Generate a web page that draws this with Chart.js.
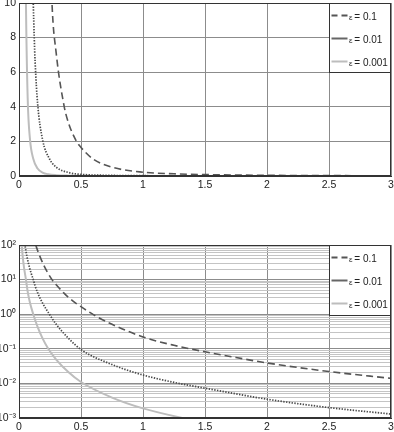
<!DOCTYPE html>
<html>
<head>
<meta charset="utf-8">
<script src="https://cdn.jsdelivr.net/npm/chart.js@4/dist/chart.umd.min.js"></script>
<style>
	html, body { margin: 0; padding: 0; background: #fff; }
	#wrap { position: relative; width: 394px; height: 432px; }
	.box { position: absolute; left: 0; width: 394px; }
</style>
</head>
<body>
<div id="wrap">
	<div class="box" style="top:0;height:196px"><canvas id="chart-linear"></canvas></div>
	<div class="box" style="top:230px;height:202px"><canvas id="chart-log"></canvas></div>
</div>
<script>
// Series labels
const LABELS = ["ε = 0.1", "ε = 0.01", "ε = 0.001"];

// Tick labels
const X_TICKS = [0, 0.5, 1, 1.5, 2, 2.5, 3];
const LIN_TICKS = [0, 2, 4, 6, 8, 10];
const LOG_EXP = [-3, -2, -1, 0, 1, 2];
const LOG_TICKS = ["10⁻³", "10⁻²", "10⁻¹", "10⁰", "10¹", "10²"];

// ε = 0.1 (dashed)
const E1_X = [0.11, 0.135, 0.16, 0.2, 0.266, 0.3, 0.365, 0.4, 0.46, 0.5, 0.6, 0.75, 1, 1.25, 1.5, 1.75, 2, 2.5, 3];
const E1_Y = [200, 100, 56, 26, 10, 7.1, 4.0, 3.05, 2.05, 1.65, 0.97, 0.51, 0.22, 0.126, 0.082, 0.056, 0.039, 0.022, 0.014];

// ε = 0.01 (dotted)
const E2_X = [0.04, 0.048, 0.065, 0.085, 0.1, 0.115, 0.123, 0.13, 0.15, 0.19, 0.245, 0.3, 0.4, 0.5, 0.75, 1, 1.25, 1.5, 2, 2.5, 3];
const E2_Y = [160, 100, 45, 22, 14.5, 10, 8, 6.6, 4.2, 2.1, 1.0, 0.51, 0.2, 0.095, 0.035, 0.0175, 0.0107, 0.0073, 0.0035, 0.002, 0.0013];

// ε = 0.001 (solid light)
const E3_X = [0.018, 0.022, 0.03, 0.04, 0.056, 0.07, 0.089, 0.115, 0.15, 0.19, 0.236, 0.3, 0.4, 0.5, 0.75, 1, 1.32, 1.5];
const E3_Y = [162, 100, 46, 23, 10, 4.5, 2.1, 1.0, 0.43, 0.2, 0.1, 0.049, 0.021, 0.011, 0.0039, 0.0019, 0.001, 0.00075];

const FONT = { family: "'Liberation Sans', Arial, sans-serif", size: 10.5 };
const TEXT = "#222";

const pts = (xs, ys) => xs.map((x, i) => ({ x, y: ys[i] }));

const makeDatasets = () => [
	{
		label: LABELS[0],
		data: pts(E1_X, E1_Y),
		borderColor: "#555",
		borderWidth: 1.6,
		borderDash: [7, 4],
		legendColor: "#555",
		legendDash: [6, 4],
	},
	{
		label: LABELS[1],
		data: pts(E2_X, E2_Y),
		borderColor: "#4a4a4a",
		borderWidth: 1.7,
		borderDash: [1.4, 1.4],
		legendColor: "#666",
		legendDash: [],
	},
	{
		label: LABELS[2],
		data: pts(E3_X, E3_Y),
		borderColor: "#bdbdbd",
		borderWidth: 2,
		borderDash: [],
		legendColor: "#bdbdbd",
		legendDash: [],
	},
].map((ds) => ({
	...ds,
	pointRadius: 0,
	fill: false,
	cubicInterpolationMode: "monotone",
	clip: 0,
}));

// Axis box + legend drawn inside chart area
const frameAndLegend = {
	id: "frameAndLegend",
	afterDraw(chart) {
		const { ctx, chartArea, scales } = chart;
		ctx.save();
		ctx.strokeStyle = "#333";
		ctx.lineWidth = 1;
		ctx.strokeRect(chartArea.left + 0.5, chartArea.top + 0.5, chartArea.right - chartArea.left - 1, chartArea.bottom - chartArea.top - 1);

		const left = Math.round(scales.x.getPixelForValue(2.5)) + 0.5;
		const top = chartArea.top + 0.5;
		const right = chartArea.right - 0.5;
		const h = chart.options.plugins.frameAndLegend.height;
		ctx.fillStyle = "#fff";
		ctx.fillRect(left, top, right - left, h);
		ctx.strokeRect(left, top, right - left, h);

		chart.data.datasets.forEach((ds, i) => {
			const y = top + 12 + i * 23;
			ctx.beginPath();
			ctx.setLineDash(ds.legendDash);
			ctx.strokeStyle = ds.legendColor;
			ctx.lineWidth = 2;
			ctx.moveTo(left + 2, y);
			ctx.lineTo(left + 18, y);
			ctx.stroke();
			ctx.setLineDash([]);

			ctx.fillStyle = TEXT;
			ctx.textBaseline = "alphabetic";
			ctx.font = `8px ${FONT.family}`;
			ctx.fillText(ds.label.charAt(0), left + 19.5, y + 4.5);
			ctx.font = `10px ${FONT.family}`;
			ctx.fillText(ds.label.slice(1), left + 22, y + 4);
		});
		ctx.restore();
	},
};

const zeroPad = (w, h) => (scale) => {
	if (w !== null) scale.width = w;
	if (h !== null) scale.height = h;
	scale.paddingTop = 0;
	scale.paddingBottom = 0;
	scale.paddingLeft = 0;
	scale.paddingRight = 0;
};

const xScale = (height) => ({
	type: "linear",
	min: X_TICKS[0],
	max: X_TICKS[X_TICKS.length - 1],
	afterBuildTicks: (scale) => {
		scale.ticks = X_TICKS.map((value) => ({ value }));
	},
	afterFit: zeroPad(null, height),
	border: { display: true, color: "#333" },
	grid: { color: "#8c8c8c", drawTicks: false },
	ticks: {
		color: TEXT,
		font: FONT,
		padding: 3,
		maxRotation: 0,
		autoSkip: false,
		callback: (v) => String(v),
	},
});

const baseOptions = {
	responsive: true,
	maintainAspectRatio: false,
	animation: false,
	events: [],
	parsing: false,
};

// Linear chart
new Chart(document.getElementById("chart-linear"), {
	type: "line",
	data: { datasets: makeDatasets() },
	options: {
		...baseOptions,
		layout: { padding: { top: 3, right: 3, left: 0, bottom: 0 } },
		plugins: {
			legend: { display: false },
			tooltip: { enabled: false },
			frameAndLegend: { height: 69 },
		},
		scales: {
			x: xScale(20),
			y: {
				type: "linear",
				min: LIN_TICKS[0],
				max: LIN_TICKS[LIN_TICKS.length - 1],
				afterBuildTicks: (scale) => {
					scale.ticks = LIN_TICKS.map((value) => ({ value }));
				},
				afterFit: zeroPad(19, null),
				border: { display: true, color: "#333" },
				grid: { color: "#8c8c8c", drawTicks: false },
				ticks: { color: TEXT, font: FONT, padding: 3, autoSkip: false },
			},
		},
	},
	plugins: [frameAndLegend],
});

// Log chart
new Chart(document.getElementById("chart-log"), {
	type: "line",
	data: { datasets: makeDatasets() },
	options: {
		...baseOptions,
		layout: { padding: { top: 15, right: 3, left: 0, bottom: 0 } },
		plugins: {
			legend: { display: false },
			tooltip: { enabled: false },
			frameAndLegend: { height: 70 },
		},
		scales: {
			x: xScale(14),
			y: {
				type: "logarithmic",
				min: Math.pow(10, LOG_EXP[0]),
				max: Math.pow(10, LOG_EXP[LOG_EXP.length - 1]),
				afterBuildTicks: (scale) => {
					const ticks = [];
					LOG_EXP.forEach((e, i) => {
						ticks.push({ value: Math.pow(10, e), major: true, label: LOG_TICKS[i] });
						if (i < LOG_EXP.length - 1) {
							for (let m = 2; m <= 9; m++) ticks.push({ value: m * Math.pow(10, e), major: false });
						}
					});
					scale.ticks = ticks;
				},
				afterFit: zeroPad(19, null),
				border: { display: true, color: "#333" },
				grid: {
					drawTicks: false,
					color: (ctx) => (ctx.tick && ctx.tick.major ? "#8c8c8c" : "#c4c4c4"),
				},
				ticks: {
					color: TEXT,
					font: FONT,
					padding: 3,
					autoSkip: false,
					callback: function (value, index, ticks) {
						return ticks[index].major ? ticks[index].label : "";
					},
				},
			},
		},
	},
	plugins: [frameAndLegend],
});
</script>
</body>
</html>
